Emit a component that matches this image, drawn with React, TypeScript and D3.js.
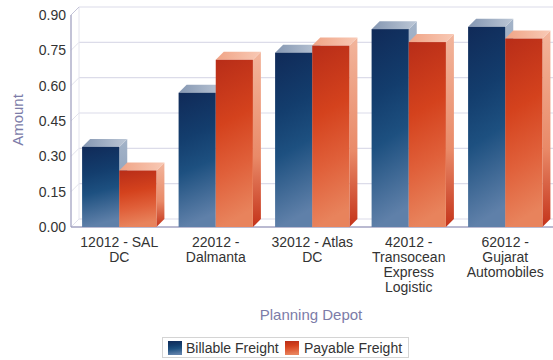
import React from "react";
import * as d3 from "d3";

const categories = ["12012 - SAL DC", "22012 - Dalmanta", "32012 - Atlas DC", "42012 - Transocean Express Logistic", "62012 - Gujarat Automobiles"];
const categoryLines = [["12012 - SAL", "DC"], ["22012 -", "Dalmanta"], ["32012 - Atlas", "DC"], ["42012 -", "Transocean", "Express", "Logistic"], ["62012 -", "Gujarat", "Automobiles"]];
const seriesNames = ["Billable Freight", "Payable Freight"];
const billable = [0.34, 0.57, 0.74, 0.84, 0.85];
const payable = [0.24, 0.71, 0.77, 0.785, 0.80];
const yTicks = [0, 0.15, 0.3, 0.45, 0.6, 0.75, 0.9];

const W = 553, H = 360;
const left = 71, floorY = 227, topY = 15, right = 553.5;
const DX = 8, DY = -8;
const FONT = "'Liberation Sans', Arial, sans-serif";

export default function App() {
  const y = d3.scaleLinear().domain([0, 0.9]).range([floorY, topY]);
  const x = d3.scaleBand().domain(categories).range([left, right]).paddingInner(0.23).paddingOuter(0.115);
  const xs = d3.scaleBand().domain(seriesNames).range([0, x.bandwidth()]);
  const seriesVals = [billable, payable];
  const ids = ["bill", "pay"];

  return (
    <div style={{ position: "absolute", left: 0, top: 0, width: W, height: H }}>
      <svg width={W} height={H} style={{ display: "block", background: "#fff" }} fontFamily={FONT}>
        <defs>
          <linearGradient id="billFront" x1="0" y1="0" x2="0.12" y2="1">
            <stop offset="0" stopColor="#102a58" />
            <stop offset="0.35" stopColor="#133d6d" />
            <stop offset="0.6" stopColor="#1d5080" />
            <stop offset="1" stopColor="#5f80a9" />
          </linearGradient>
          <linearGradient id="billSide" x1="0" y1="0" x2="0" y2="1">
            <stop offset="0" stopColor="#a3b3c8" />
            <stop offset="1" stopColor="#7d93b0" />
          </linearGradient>
          <linearGradient id="billTop" x1="0" y1="0" x2="1" y2="0">
            <stop offset="0" stopColor="#8597b2" />
            <stop offset="1" stopColor="#bcc7d6" />
          </linearGradient>
          <linearGradient id="payFront" x1="0" y1="0" x2="0.12" y2="1">
            <stop offset="0" stopColor="#b82d18" />
            <stop offset="0.4" stopColor="#d4421d" />
            <stop offset="0.7" stopColor="#e0603a" />
            <stop offset="1" stopColor="#e8835c" />
          </linearGradient>
          <linearGradient id="paySide" x1="0" y1="0" x2="0" y2="1">
            <stop offset="0" stopColor="#f2b59c" />
            <stop offset="0.6" stopColor="#e98a68" />
            <stop offset="1" stopColor="#c4331a" />
          </linearGradient>
          <linearGradient id="payTop" x1="0" y1="0" x2="1" y2="0">
            <stop offset="0" stopColor="#f0a486" />
            <stop offset="1" stopColor="#f8c9b5" />
          </linearGradient>
        </defs>

        {/* back wall gridlines */}
        {yTicks.map((t) => (
          <g key={"g" + t}>
            <line x1={left + DX} x2={W} y1={y(t) + DY} y2={y(t) + DY} stroke="#dcdce9" strokeWidth={1.2} />
            <line x1={left} x2={left + DX} y1={y(t)} y2={y(t) + DY} stroke="#e2e2ec" strokeWidth={1} />
          </g>
        ))}
        {/* left wall */}
        <line x1={left + DX} x2={left + DX} y1={y(0) + DY} y2={y(0.9) + DY} stroke="#e4e4ee" strokeWidth={1} />
        <line x1={left} x2={left} y1={floorY} y2={topY} stroke="#a3a3c2" strokeWidth={1.3} />
        <line x1={left} x2={left + DX} y1={topY} y2={topY + DY} stroke="#c4c4d8" strokeWidth={1} />
        {/* floor */}
        <line x1={left} x2={W} y1={floorY} y2={floorY} stroke="#a3a3c2" strokeWidth={1.3} />

        {/* bars */}
        {categories.map((c, i) => (
          <g key={c}>
            {seriesNames.map((s, k) => {
              const v = seriesVals[k][i];
              const x0 = (x(c) as number) + (xs(s) as number);
              const x1 = x0 + xs.bandwidth();
              const yt = y(v);
              const yb = floorY;
              const id = ids[k];
              return (
                <g key={s}>
                  <path d={`M${x1},${yt}L${x1 + DX},${yt + DY}L${x1 + DX},${yb + DY}L${x1},${yb}Z`} fill={`url(#${id}Side)`} />
                  <path d={`M${x0},${yt}L${x0 + DX},${yt + DY}L${x1 + DX},${yt + DY}L${x1},${yt}Z`} fill={`url(#${id}Top)`} />
                  <rect x={x0} y={yt} width={x1 - x0} height={yb - yt} fill={`url(#${id}Front)`} />
                </g>
              );
            })}
          </g>
        ))}

        {/* y tick labels */}
        {yTicks.map((t) => (
          <text key={"t" + t} x={66} y={y(t) + 5} textAnchor="end" fontSize={14} fill="#333">
            {d3.format(".2f")(t)}
          </text>
        ))}

        {/* x tick labels */}
        {categories.map((c, i) => (
          <text key={"l" + c} x={(x(c) as number) + x.bandwidth() / 2} y={247} textAnchor="middle" fontSize={14} fill="#333">
            {categoryLines[i].map((ln, j) => (
              <tspan key={j} x={(x(c) as number) + x.bandwidth() / 2} y={247 + j * 15}>{ln}</tspan>
            ))}
          </text>
        ))}

        {/* axis titles */}
        <text x={311} y={320} textAnchor="middle" fontSize={15} fill="#7c7ca8">Planning Depot</text>
        <text transform="translate(23,120) rotate(-90)" textAnchor="middle" fontSize={15} fill="#7c7ca8">Amount</text>

        {/* legend */}
        <rect x={162.5} y={337.5} width={246} height={20} fill="#fff" stroke="#d4d4d4" />
        <rect x={168} y={341} width={14} height={14} fill="url(#billFront)" />
        <text x={186} y={353} fontSize={14} fill="#333">{seriesNames[0]}</text>
        <rect x={285} y={341} width={14} height={14} fill="url(#payFront)" />
        <text x={304} y={353} fontSize={14} fill="#333">{seriesNames[1]}</text>
      </svg>
    </div>
  );
}
